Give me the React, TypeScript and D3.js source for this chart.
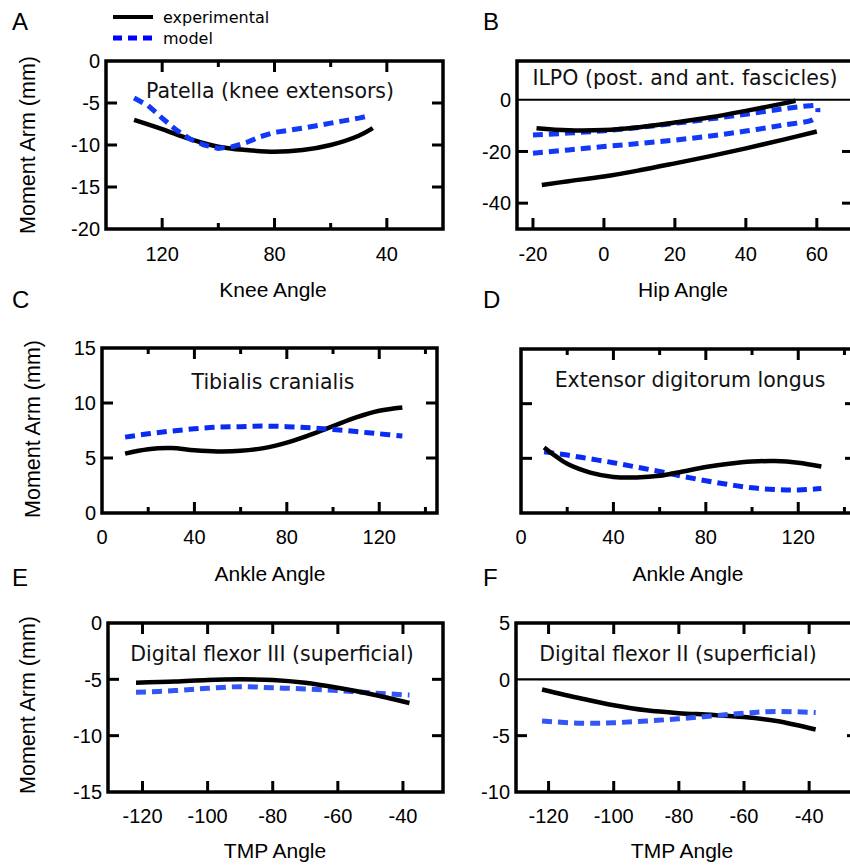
import React from 'react';
import * as d3 from 'd3';

// ---------- Data ----------
// A: Patella (knee extensors) vs Knee Angle
const patellaExpAngle = [130, 120, 110, 100, 90, 80, 70, 60, 50, 45];
const patellaExpArm = [-7.0, -8.1, -9.3, -10.2, -10.6, -10.8, -10.6, -10.0, -8.9, -8.0];
const patellaModelAngle = [130, 125, 120, 115, 110, 105, 100, 95, 90, 85, 80, 70, 60, 50, 46];
const patellaModelArm = [-4.4, -5.3, -6.8, -8.2, -9.3, -10.0, -10.4, -10.2, -9.7, -9.0, -8.5, -8.0, -7.4, -6.8, -6.5];

// B: ILPO (post. and ant. fascicles) vs Hip Angle
const ilpoExpUpperAngle = [-19, -10, 0, 10, 20, 30, 40, 50, 54];
const ilpoExpUpperArm = [-11.0, -11.8, -11.7, -10.6, -8.8, -6.8, -4.3, -1.6, -0.4];
const ilpoExpLowerAngle = [-17.5, -10, 0, 10, 20, 30, 40, 50, 60];
const ilpoExpLowerArm = [-33.0, -31.5, -29.7, -27.3, -24.6, -21.8, -18.8, -15.6, -12.3];
const ilpoModelUpperAngle = [-20, -10, 0, 10, 20, 30, 40, 50, 58, 60, 60.3];
const ilpoModelUpperArm = [-13.6, -12.9, -12.0, -10.7, -9.1, -7.4, -5.6, -3.6, -2.3, -2.4, -4.8];
const ilpoModelLowerAngle = [-20, -10, 0, 10, 20, 30, 40, 50, 59, 60];
const ilpoModelLowerArm = [-20.7, -19.4, -18.1, -16.9, -15.6, -14.0, -12.1, -9.9, -7.6, -6.0];

// C: Tibialis cranialis vs Ankle Angle
const tibExpAngle = [10, 20, 30, 40, 50, 60, 70, 80, 90, 100, 110, 120, 130];
const tibExpArm = [5.4, 5.8, 5.9, 5.7, 5.6, 5.65, 5.9, 6.4, 7.1, 7.9, 8.7, 9.3, 9.6];
const tibModelAngle = [10, 20, 30, 40, 50, 60, 70, 80, 90, 100, 110, 120, 130];
const tibModelArm = [6.9, 7.2, 7.45, 7.65, 7.8, 7.85, 7.9, 7.85, 7.75, 7.6, 7.4, 7.2, 7.0];

// D: Extensor digitorum longus vs Ankle Angle
const edlExpAngle = [10, 15, 20, 30, 40, 50, 60, 70, 80, 90, 100, 110, 120, 130];
const edlExpArm = [6.0, 5.2, 4.5, 3.7, 3.3, 3.25, 3.4, 3.8, 4.2, 4.5, 4.7, 4.75, 4.6, 4.25];
const edlModelAngle = [10, 20, 30, 40, 50, 60, 70, 80, 90, 100, 110, 120, 130];
const edlModelArm = [5.6, 5.3, 4.95, 4.6, 4.2, 3.8, 3.35, 2.95, 2.6, 2.3, 2.15, 2.1, 2.25];

// E: Digital flexor III (superficial) vs TMP Angle
const df3ExpAngle = [-122, -110, -100, -90, -80, -70, -60, -50, -38];
const df3ExpArm = [-5.3, -5.2, -5.05, -5.0, -5.05, -5.3, -5.75, -6.3, -7.1];
const df3ModelAngle = [-122, -110, -100, -90, -80, -70, -60, -50, -38];
const df3ModelArm = [-6.15, -6.0, -5.8, -5.65, -5.75, -5.85, -6.0, -6.2, -6.4];

// F: Digital flexor II (superficial) vs TMP Angle
const df2ExpAngle = [-122, -110, -100, -90, -80, -70, -60, -50, -38];
const df2ExpArm = [-0.9, -1.7, -2.3, -2.75, -3.0, -3.15, -3.35, -3.7, -4.45];
const df2ModelAngle = [-122, -110, -100, -90, -80, -70, -60, -50, -38];
const df2ModelArm = [-3.7, -3.9, -3.85, -3.7, -3.5, -3.25, -3.0, -2.85, -2.95];

// Tick values
const kneeTicksMajor = [120, 80, 40];
const kneeTicksMinor = [100, 60];
const patellaYTicks = [-5, -10, -15];
const patellaYLabels = [0, -5, -10, -15, -20];
const hipTicks = [-20, 0, 20, 40, 60];
const ilpoYTicks = [-20, -40];
const ilpoYLabels = [0, -20, -40];
const ankleTicksMajor = [40, 80, 120];
const ankleTicksMinor = [20, 60, 100, 140];
const ankleLabels = [0, 40, 80, 120];
const ankleYTicks = [5, 10];
const ankleYLabels = [0, 5, 10, 15];
const tmpTicks = [-120, -100, -80, -60, -40];
const df3YTicks = [-5, -10];
const df3YLabels = [0, -5, -10, -15];
const df2YTicks = [-5];
const df2YLabels = [5, 0, -5, -10];

const legendLabels = ['experimental', 'model'];

// ---------- Styles ----------
const SANS = "'Liberation Sans', Arial, Helvetica, sans-serif";
const TITLE = "'DejaVu Sans', Verdana, sans-serif";

type Series = { x: number[]; y: number[]; kind: 'exp' | 'model'; linear?: boolean };
type PanelCfg = {
  letter: string; letterX: number; letterY: number;
  l: number; r: number; t: number; b: number;
  xDomain: [number, number]; yDomain: [number, number];
  xMajor: number[]; xMinor: number[]; xTop: boolean; xLabels: number[]; xLabelY: number;
  yTicks: number[]; yRight: boolean; yLabels: number[] | null;
  zeroLine: boolean;
  title: string; titleX: number; titleY: number;
  xTitle: string; xTitleX: number; xTitleY: number;
  yTitleX: number | null; yTitleY: number;
  blue: string;
  series: Series[];
};

const panels: PanelCfg[] = [
  {
    letter: 'A', letterX: 12, letterY: 30,
    l: 106, r: 443, t: 61, b: 229,
    xDomain: [140, 20], yDomain: [-20, 0],
    xMajor: kneeTicksMajor, xMinor: kneeTicksMinor, xTop: true, xLabels: kneeTicksMajor, xLabelY: 261,
    yTicks: patellaYTicks, yRight: true, yLabels: patellaYLabels, zeroLine: false,
    title: 'Patella (knee extensors)', titleX: 270, titleY: 98,
    xTitle: 'Knee Angle', xTitleX: 273, xTitleY: 297,
    yTitleX: 35, yTitleY: 145, blue: '#1238f8',
    series: [
      { x: patellaExpAngle, y: patellaExpArm, kind: 'exp' },
      { x: patellaModelAngle, y: patellaModelArm, kind: 'model', linear: true },
    ],
  },
  {
    letter: 'B', letterX: 483, letterY: 30,
    l: 517, r: 853, t: 61, b: 229,
    xDomain: [-24.5, 70.2], yDomain: [-50, 15],
    xMajor: hipTicks, xMinor: [], xTop: false, xLabels: hipTicks, xLabelY: 261,
    yTicks: ilpoYTicks, yRight: true, yLabels: ilpoYLabels, zeroLine: true,
    title: 'ILPO (post. and ant. fascicles)', titleX: 685, titleY: 85,
    xTitle: 'Hip Angle', xTitleX: 683, xTitleY: 297,
    yTitleX: null, yTitleY: 0, blue: '#1238f8',
    series: [
      { x: ilpoModelUpperAngle, y: ilpoModelUpperArm, kind: 'model' },
      { x: ilpoModelLowerAngle, y: ilpoModelLowerArm, kind: 'model' },
      { x: ilpoExpUpperAngle, y: ilpoExpUpperArm, kind: 'exp' },
      { x: ilpoExpLowerAngle, y: ilpoExpLowerArm, kind: 'exp' },
    ],
  },
  {
    letter: 'C', letterX: 12, letterY: 308,
    l: 102, r: 437, t: 348, b: 513,
    xDomain: [0, 145], yDomain: [0, 15],
    xMajor: ankleTicksMajor, xMinor: ankleTicksMinor, xTop: true, xLabels: ankleLabels, xLabelY: 544,
    yTicks: ankleYTicks, yRight: true, yLabels: ankleYLabels, zeroLine: false,
    title: 'Tibialis cranialis', titleX: 273, titleY: 389,
    xTitle: 'Ankle Angle', xTitleX: 270, xTitleY: 581,
    yTitleX: 40, yTitleY: 429, blue: '#0a2cf2',
    series: [
      { x: tibExpAngle, y: tibExpArm, kind: 'exp' },
      { x: tibModelAngle, y: tibModelArm, kind: 'model' },
    ],
  },
  {
    letter: 'D', letterX: 483, letterY: 308,
    l: 521, r: 856, t: 349, b: 513,
    xDomain: [0, 145], yDomain: [0, 15],
    xMajor: ankleTicksMajor, xMinor: ankleTicksMinor, xTop: true, xLabels: ankleLabels, xLabelY: 544,
    yTicks: ankleYTicks, yRight: true, yLabels: null, zeroLine: false,
    title: 'Extensor digitorum longus', titleX: 690, titleY: 387,
    xTitle: 'Ankle Angle', xTitleX: 688, xTitleY: 581,
    yTitleX: null, yTitleY: 0, blue: '#0a2cf2',
    series: [
      { x: edlModelAngle, y: edlModelArm, kind: 'model' },
      { x: edlExpAngle, y: edlExpArm, kind: 'exp' },
    ],
  },
  {
    letter: 'E', letterX: 12, letterY: 586,
    l: 108, r: 443, t: 623, b: 792,
    xDomain: [-130.6, -27.7], yDomain: [-15, 0],
    xMajor: tmpTicks, xMinor: [], xTop: true, xLabels: tmpTicks, xLabelY: 823,
    yTicks: df3YTicks, yRight: true, yLabels: df3YLabels, zeroLine: false,
    title: 'Digital flexor III (superficial)', titleX: 272, titleY: 661,
    xTitle: 'TMP Angle', xTitleX: 275, xTitleY: 858,
    yTitleX: 35, yTitleY: 705, blue: '#3456f6',
    series: [
      { x: df3ModelAngle, y: df3ModelArm, kind: 'model' },
      { x: df3ExpAngle, y: df3ExpArm, kind: 'exp' },
    ],
  },
  {
    letter: 'F', letterX: 483, letterY: 586,
    l: 516, r: 858, t: 623, b: 792,
    xDomain: [-130, -25], yDomain: [-10, 5],
    xMajor: tmpTicks, xMinor: [], xTop: true, xLabels: tmpTicks, xLabelY: 823,
    yTicks: df2YTicks, yRight: true, yLabels: df2YLabels, zeroLine: true,
    title: 'Digital flexor II (superficial)', titleX: 678, titleY: 661,
    xTitle: 'TMP Angle', xTitleX: 682, xTitleY: 858,
    yTitleX: null, yTitleY: 0, blue: '#3456f6',
    series: [
      { x: df2ExpAngle, y: df2ExpArm, kind: 'exp' },
      { x: df2ModelAngle, y: df2ModelArm, kind: 'model' },
    ],
  },
];

const MAJOR = 11;
const MINOR = 6;
const YTICK = 11;
const FRAME_W = 3.5;

function Panel({ p }: { p: PanelCfg }) {
  const xs = d3.scaleLinear().domain(p.xDomain).range([p.l, p.r]);
  const ys = d3.scaleLinear().domain(p.yDomain).range([p.b, p.t]);
  const makeLine = (linear?: boolean) =>
    d3.line<[number, number]>()
      .x((d) => xs(d[0]))
      .y((d) => ys(d[1]))
      .curve(linear ? d3.curveLinear : d3.curveCatmullRom.alpha(0.5));

  const xTickEls: React.ReactNode[] = [];
  const addX = (v: number, len: number, key: string) => {
    const x = xs(v);
    xTickEls.push(<line key={'b' + key} x1={x} x2={x} y1={p.b} y2={p.b - len} stroke="#000" strokeWidth={3} />);
    if (p.xTop) xTickEls.push(<line key={'t' + key} x1={x} x2={x} y1={p.t} y2={p.t + len} stroke="#000" strokeWidth={3} />);
  };
  p.xMajor.forEach((v, i) => addX(v, MAJOR, 'M' + i));
  p.xMinor.forEach((v, i) => addX(v, MINOR, 'm' + i));

  return (
    <g>
      <text x={p.letterX} y={p.letterY} fontFamily={SANS} fontSize={24}>{p.letter}</text>
      {p.series.map((s, i) => {
        const pts: [number, number][] = s.x.map((x, j) => [x, s.y[j]]);
        const d = makeLine(s.linear)(pts) || '';
        return s.kind === 'exp' ? (
          <path key={i} d={d} fill="none" stroke="#000" strokeWidth={4.5} strokeLinecap="butt" />
        ) : (
          <path key={i} d={d} fill="none" stroke={p.blue} strokeWidth={5} strokeDasharray="10,6" />
        );
      })}
      {p.zeroLine && (
        <line x1={p.l} x2={p.r} y1={ys(0)} y2={ys(0)} stroke="#000" strokeWidth={2.2} />
      )}
      <rect x={p.l} y={p.t} width={p.r - p.l} height={p.b - p.t} fill="none" stroke="#000" strokeWidth={FRAME_W} />
      {xTickEls}
      {p.yTicks.map((v, i) => (
        <g key={'y' + i}>
          <line x1={p.l} x2={p.l + YTICK} y1={ys(v)} y2={ys(v)} stroke="#000" strokeWidth={3} />
          {p.yRight && <line x1={p.r} x2={p.r - YTICK} y1={ys(v)} y2={ys(v)} stroke="#000" strokeWidth={3} />}
        </g>
      ))}
      {p.xLabels.map((v, i) => (
        <text key={'xl' + i} x={xs(v)} y={p.xLabelY} textAnchor="middle" fontFamily={SANS} fontSize={20}>{v}</text>
      ))}
      {p.yLabels && p.yLabels.map((v, i) => (
        <text key={'yl' + i} x={p.l - 6} y={ys(v)} dy="0.36em" textAnchor="end" fontFamily={SANS} fontSize={20}>{v}</text>
      ))}
      <text x={p.titleX} y={p.titleY} textAnchor="middle" fontFamily={TITLE} fontSize={20.5} fill="#111">{p.title}</text>
      <text x={p.xTitleX} y={p.xTitleY} textAnchor="middle" fontFamily={SANS} fontSize={21}>{p.xTitle}</text>
      {p.yTitleX !== null && (
        <text transform={`translate(${p.yTitleX},${p.yTitleY}) rotate(-90)`} textAnchor="middle" fontFamily={SANS} fontSize={21.5}>Moment Arm (mm)</text>
      )}
    </g>
  );
}

export default function App() {
  return (
    <svg width={850} height={867} style={{ position: 'absolute', left: 0, top: 0, display: 'block', background: '#fff' }}>
      <rect x={0} y={0} width={850} height={867} fill="#fff" />
      <line x1={113} x2={153} y1={17} y2={17} stroke="#000" strokeWidth={4} />
      <text x={163} y={23} fontFamily={TITLE} fontSize={16}>{legendLabels[0]}</text>
      <line x1={113} x2={153} y1={38} y2={38} stroke="#0000ff" strokeWidth={5} strokeDasharray="9,6" />
      <text x={163} y={44} fontFamily={TITLE} fontSize={16}>{legendLabels[1]}</text>
      {panels.map((p) => <Panel key={p.letter} p={p} />)}
    </svg>
  );
}
